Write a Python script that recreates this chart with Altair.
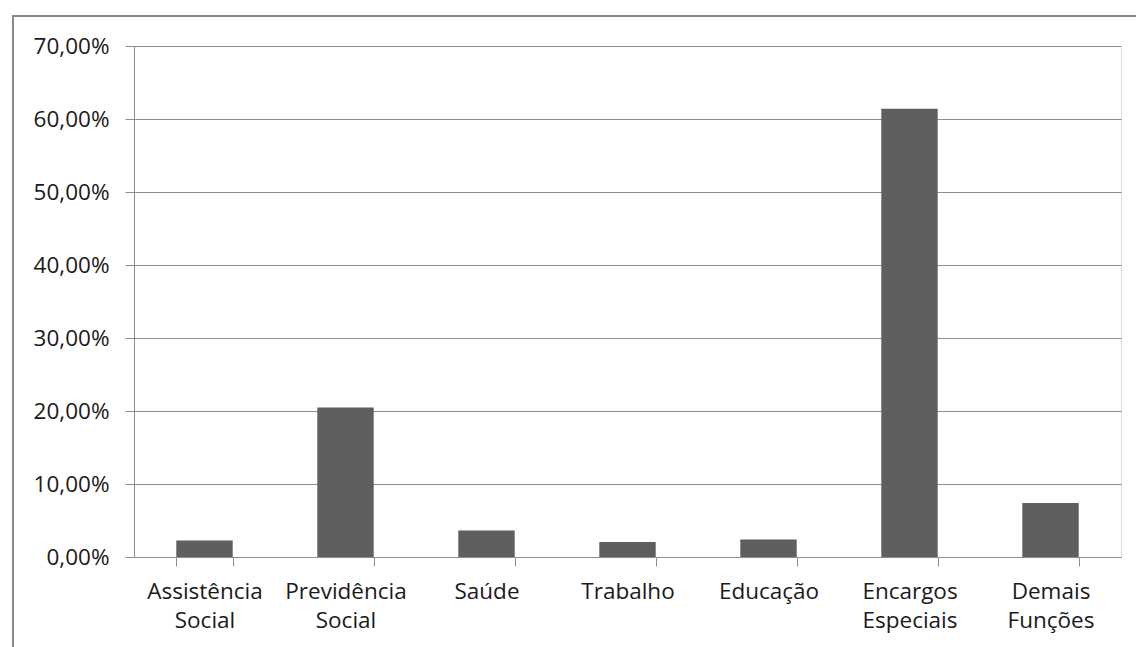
import altair as alt
import pandas as pd

categories = ["Assistência Social", "Previdência Social", "Saúde", "Trabalho",
              "Educação", "Encargos Especiais", "Demais Funções"]
values = [0.0227, 0.2048, 0.0364, 0.0205, 0.0241, 0.6142, 0.0739]
y_ticks = [0.0, 0.1, 0.2, 0.3, 0.4, 0.5, 0.6, 0.7]

df = pd.DataFrame({"cat": categories, "val": values})
one = pd.DataFrame({"k": [0]})

W, H = 987, 511
FONT = "Open Sans"
GRAY = "#8e8e8e"

bars = alt.Chart(df).mark_bar(color="#5f5f5f").encode(
    x=alt.X("cat:N", sort=categories, title=None,
            scale=alt.Scale(paddingInner=0.6, paddingOuter=0.3),
            axis=alt.Axis(labelAngle=0, tickBand="extent", tickSize=9,
                          tickColor=GRAY, domainColor=GRAY, labelPadding=14,
                          labelFont=FONT, labelFontSize=22.5, labelColor="#1a1a1a",
                          labelLineHeight=29, labelBaseline="top",
                          labelExpr="split(datum.label, ' ')", grid=False)),
    y=alt.Y("val:Q", title=None,
            scale=alt.Scale(domain=[0, 0.7], nice=False),
            axis=alt.Axis(values=y_ticks, tickSize=9, tickColor=GRAY,
                          domainColor=GRAY, gridColor=GRAY, grid=True,
                          labelPadding=16, labelFont=FONT, labelFontSize=22.5,
                          labelColor="#1a1a1a",
                          labelExpr="replace(format(datum.value, '.2%'), '.', ',')")),
)

frame_left = alt.Chart(one).mark_rule(color="#878787", strokeWidth=2).encode(
    x=alt.value(-121), y=alt.value(-30), y2=alt.value(H + 100))
frame_top = alt.Chart(one).mark_rule(color="#878787", strokeWidth=2).encode(
    y=alt.value(-30), x=alt.value(-122), x2=alt.value(W + 20))

chart = alt.layer(bars, frame_left, frame_top).properties(
    width=W, height=H,
    autosize=alt.AutoSizeParams(type="none"),
    padding={"left": 134, "top": 46, "right": 15, "bottom": 90},
).configure_view(stroke=None).configure(background="white")

chart.save("out.html", embed_options={"renderer": "svg", "actions": False})
